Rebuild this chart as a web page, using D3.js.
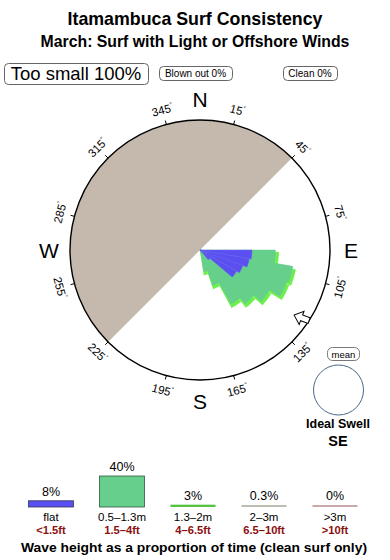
<!DOCTYPE html>
<html><head><meta charset="utf-8">
<script src="https://cdn.jsdelivr.net/npm/d3@7"></script>
<style>body{margin:0;background:#fff}svg{display:block}text{font-family:"Liberation Sans",Arial,Helvetica,sans-serif}</style>
</head><body><svg id="c" width="390" height="560"></svg>
<script>
// ---------- data ----------
const title = "Itamambuca Surf Consistency";
const subtitle = "March: Surf with Light or Offshore Winds";
const statusLabels = ["Too small 100%", "Blown out 0%", "Clean 0%"];
const tickBearings = [15, 45, 75, 105, 135, 165, 195, 225, 255, 285, 315, 345];
const cardinalLabels = ["N", "E", "S", "W"];
const cardinalBearings = [0, 90, 180, 270];
const landSector = [225, 405];           // shaded sector, bearings
const binStart = [90, 100, 110, 120, 130, 140, 150, 160];   // direction bins (deg)
const binWidth = 10;
const flatVals  = [0.40, 0.385, 0.35, 0.325, 0.10, 0, 0, 0];          // cumulative
const smallVals = [0.58, 0.725, 0.71, 0.615, 0.54, 0.48, 0.29, 0.17]; // cumulative
const midVals   = [0.60, 0.745, 0.73, 0.635, 0.56, 0.50, 0.31, 0.19]; // cumulative
const swellBearing = 123;
const swellFrom = 110;
const idealSwell = "SE";
const legendCats = ["flat", "0.5–1.3m", "1.3–2m", "2–3m", ">3m"];
const legendFt = ["<1.5ft", "1.5–4ft", "4–6.5ft", "6.5–10ft", ">10ft"];
const legendPct = [8, 40, 3, 0.3, 0];
const legendPctLabels = ["8%", "40%", "3%", "0.3%", "0%"];
const legendColors = ["#5b4ff2", "#66cf8c", "#55c244", "#bdbcae", "#c9aaa8"];
const legendStrokes = ["#333355", "#335544", "#55c244", "#bdbcae", "#c9aaa8"];

// ---------- drawing ----------
const svg = d3.select("#c");
const cx = 200, cy = 250, R = 130;
const rad = d => d * Math.PI / 180;

svg.append("text").attr("x", 195).attr("y", 25).attr("text-anchor", "middle")
  .attr("font-size", 17.8).attr("font-weight", "bold").text(title);
svg.append("text").attr("x", 195).attr("y", 47).attr("text-anchor", "middle")
  .attr("font-size", 15.8).attr("font-weight", "bold").text(subtitle);

// status boxes
const boxes = [
  {x: 4, y: 63, w: 144, h: 21, fs: 18.5, tx: 76},
  {x: 159, y: 66, w: 73, h: 14, fs: 10, tx: 195.5},
  {x: 283, y: 66, w: 54, h: 14, fs: 10, tx: 310}
];
boxes.forEach((b, i) => {
  svg.append("rect").attr("x", b.x + 0.5).attr("y", b.y + 0.5).attr("width", b.w).attr("height", b.h)
    .attr("rx", 4).attr("fill", "#fff").attr("stroke", "#666").attr("stroke-width", 1);
  svg.append("text").attr("x", b.tx).attr("y", b.y + b.h / 2 + b.fs * 0.36)
    .attr("text-anchor", "middle").attr("font-size", b.fs).text(statusLabels[i]);
});

const g = svg.append("g").attr("transform", `translate(${cx},${cy})`);
const r = d3.scaleLinear().domain([0, 1]).range([0, R]);

// land sector
g.append("path").attr("d", d3.arc()({innerRadius: 0, outerRadius: R,
  startAngle: rad(landSector[0]), endAngle: rad(landSector[1])})).attr("fill", "#c4b9ac");

// rose
const arc = d3.arc().innerRadius(0);
g.selectAll("path.mid").data(binStart).join("path").attr("class", "mid")
  .attr("d", (b, i) => arc({outerRadius: r(midVals[i]) + 1, startAngle: rad(b + 1.5), endAngle: rad(b + binWidth + 1.5)}))
  .attr("fill", "#6ef04c");
g.selectAll("path.small").data(binStart).join("path").attr("class", "small")
  .attr("d", (b, i) => arc({outerRadius: r(smallVals[i]), startAngle: rad(b), endAngle: rad(b + binWidth)}))
  .attr("fill", "#66cf8c").attr("stroke", "#66cf8c").attr("stroke-width", 0.5);
g.selectAll("path.flat").data(binStart).join("path").attr("class", "flat")
  .attr("d", (b, i) => arc({outerRadius: r(flatVals[i]), startAngle: rad(b), endAngle: rad(b + binWidth)}))
  .attr("fill", "#5b4ff2").attr("stroke", "#6a60f4").attr("stroke-width", 0.4);

// circle
g.append("circle").attr("r", R).attr("fill", "none").attr("stroke", "#000").attr("stroke-width", 1.4);

// ticks + labels
tickBearings.forEach(b => {
  const s = Math.sin(rad(b)), c = -Math.cos(rad(b));
  g.append("line").attr("x1", s * R).attr("y1", c * R).attr("x2", s * (R + 4)).attr("y2", c * (R + 4))
    .attr("stroke", "#000").attr("stroke-width", 1);
  const rot = (b > 90 && b < 270) ? b - 180 : (b > 180 ? b - 360 : b);
  const lr = 145;
  const t = g.append("text").attr("transform", `translate(${s * lr},${c * lr}) rotate(${rot})`)
    .attr("text-anchor", "middle").attr("dy", "0.36em").attr("font-size", 11.5);
  t.append("tspan").text(b);
  t.append("tspan").attr("font-size", 6).attr("dy", "-0.9em").text("°");
});

cardinalLabels.forEach((lab, i) => {
  const b = cardinalBearings[i];
  const s = Math.sin(rad(b)), c = -Math.cos(rad(b));
  g.append("text").attr("x", s * 151).attr("y", c * 151).attr("dy", "0.36em")
    .attr("text-anchor", "middle").attr("font-size", 21).text(lab);
});

// swell arrow
{
  const s = Math.sin(rad(swellBearing)), c = -Math.cos(rad(swellBearing));
  g.append("path").attr("transform", `translate(${s * 129},${c * 129}) rotate(${swellFrom + 180})`)
    .attr("d", "M0,-15 L-7,-7 L-3,-7 L-3,1 L3,1 L3,-7 L7,-7 Z")
    .attr("fill", "#fff").attr("stroke", "#000").attr("stroke-width", 1);
}

// mean / ideal swell
svg.append("rect").attr("x", 327.5).attr("y", 347.5).attr("width", 32).attr("height", 13).attr("rx", 5)
  .attr("fill", "#fff").attr("stroke", "#777");
svg.append("text").attr("x", 343.5).attr("y", 357.5).attr("text-anchor", "middle").attr("font-size", 9.5).text("mean");
svg.append("circle").attr("cx", 338.5).attr("cy", 390).attr("r", 25).attr("fill", "#fff")
  .attr("stroke", "#4a6a8a").attr("stroke-width", 1);
svg.append("text").attr("x", 338).attr("y", 428).attr("text-anchor", "middle").attr("font-size", 12.5)
  .attr("font-weight", "bold").text("Ideal Swell");
svg.append("text").attr("x", 338).attr("y", 445.5).attr("text-anchor", "middle").attr("font-size", 14.5)
  .attr("font-weight", "bold").text(idealSwell);

// legend
const lx = d3.scalePoint().domain(legendCats).range([51, 335]);
const lh = d3.scaleLinear().domain([0, 40]).range([0, 31]);
const base = 507;
legendCats.forEach((cat, i) => {
  const x = lx(cat), h = Math.max(lh(legendPct[i]), 2);
  if (i < 2) {
    svg.append("rect").attr("x", x - 22.5).attr("y", base - h).attr("width", 45).attr("height", h)
      .attr("fill", legendColors[i]).attr("stroke", legendStrokes[i]).attr("stroke-width", 0.8);
  } else {
    svg.append("rect").attr("x", x - 22.5).attr("y", base - h).attr("width", 45).attr("height", h)
      .attr("fill", legendColors[i]);
  }
  svg.append("text").attr("x", x).attr("y", base - h - 5).attr("text-anchor", "middle")
    .attr("font-size", 12.5).text(legendPctLabels[i]);
  svg.append("text").attr("x", x).attr("y", 521).attr("text-anchor", "middle")
    .attr("font-size", 11.5).text(cat);
  svg.append("text").attr("x", x).attr("y", 534).attr("text-anchor", "middle")
    .attr("font-size", 11.2).attr("font-weight", "bold").attr("fill", "#8b1010").text(legendFt[i]);
});
svg.append("text").attr("x", 194).attr("y", 552).attr("text-anchor", "middle")
  .attr("font-size", 13).attr("font-weight", "bold").attr("textLength", 346).attr("lengthAdjust", "spacingAndGlyphs")
  .text("Wave height as a proportion of time (clean surf only)");
</script></body></html>
